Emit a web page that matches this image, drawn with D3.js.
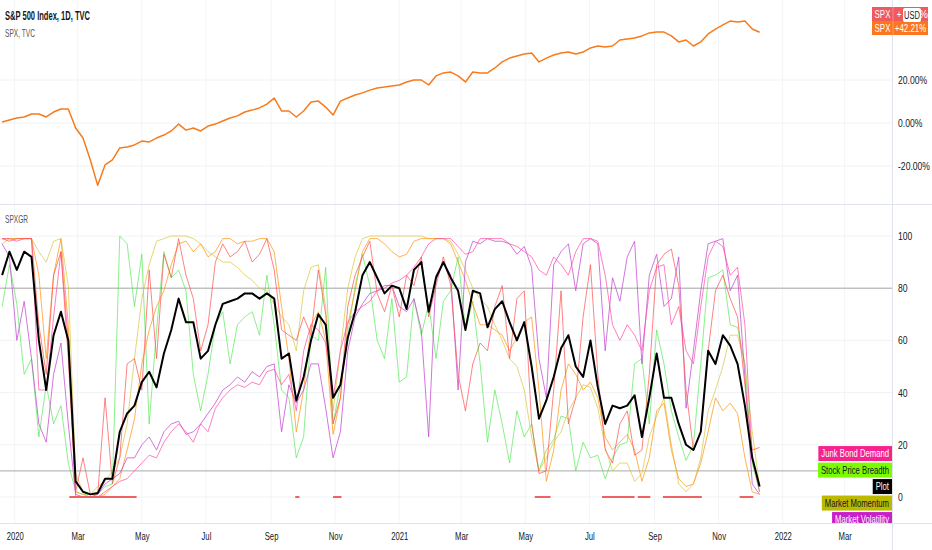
<!DOCTYPE html>
<html>
<head>
<meta charset="utf-8">
<script src="https://cdn.jsdelivr.net/npm/d3@7"></script>
<style>
  html, body { margin: 0; padding: 0; background: #fff; }
  svg { display: block; font-family: "Liberation Sans", "Roboto", sans-serif; }
</style>
</head>
<body>
<svg id="chart" width="932" height="550"></svg>
<script>
// weekly closes, first one on 2019-12-20
const weekStart = new Date(2019, 11, 20);

// S&P 500, % change from the first bar
const spxPct = [
  0.5, 1.4, 2.3, 2.8, 4.2, 4.2, 2.8, 5.1, 6.5, 6.5,
  -2.3, -7.0, -17.2, -29.0, -19.5, -17.2, -11.6, -11.2, -10.2, -8.4,
  -8.8, -7.0, -5.6, -3.7, -0.5, -3.3, -2.3, -3.7, -1.4, -0.5,
  0.9, 2.3, 3.3, 5.1, 6.0, 7.0, 8.8, 11.6, 5.6, 5.6,
  2.8, 5.6, 9.8, 10.2, 7.4, 3.7, 10.2, 11.6, 13.0, 14.0,
  15.3, 16.3, 16.7, 17.2, 17.7, 19.1, 20.0, 20.0, 17.7, 21.9,
  23.3, 23.7, 21.9, 19.1, 23.7, 23.3, 23.3, 25.6, 28.4, 30.2,
  31.2, 32.1, 32.6, 28.4, 30.2, 31.6, 32.6, 33.0, 32.1, 33.0,
  34.9, 35.8, 35.3, 35.8, 38.6, 39.1, 39.5, 40.5, 41.9, 42.3,
  42.3, 40.5, 37.7, 38.6, 35.8, 37.7, 41.4, 43.7, 45.6, 47.4,
  47.0, 47.4, 43.7, 42.21
];

// SPXGR composite (black)
const plotVals = [
  85, 94, 87, 94, 92, 60, 41, 62, 71, 60,
  6, 2, 1, 1.5, 7, 7, 25, 32, 35, 44,
  48, 42, 55, 64, 76, 67, 67, 53, 56, 66,
  74, 75, 76, 78, 78, 76, 78, 76, 53, 55,
  37, 46, 60, 70, 66, 38, 43, 61, 71, 85,
  90, 84, 78, 81, 80, 72, 87, 90, 71, 84,
  90, 84, 79, 64, 79, 78, 65, 72, 75, 67,
  60, 67, 50, 30, 37, 46, 57, 62, 50, 46,
  60, 42, 28, 35, 34, 35, 39, 23, 38, 55,
  38, 38, 28, 20, 18, 25, 56, 51, 62, 58,
  51, 35, 15, 4
];

const redVals = [
  99, 98, 99, 99, 99, 66, 47, 85, 94, 53,
  2, 15, 1, 1, 38, 5, 15, 51, 53, 41,
  87, 53, 93, 84, 99, 85, 76, 56, 66, 90,
  97, 92, 94, 98, 90, 93, 99, 87, 64, 62,
  60, 69, 62, 87, 70, 28, 38, 73, 85, 92,
  98, 78, 71, 81, 69, 85, 81, 92, 69, 81,
  92, 81, 47, 33, 51, 59, 56, 73, 81, 53,
  76, 79, 28, 9, 10, 41, 79, 28, 38, 69,
  89, 47, 18, 13, 28, 33, 16, 18, 47, 89,
  93, 95, 81, 41, 18, 25, 56, 79, 85, 76,
  69, 43, 18, 19
];

const orangeVals = [
  99, 99, 99, 99, 99, 85, 53, 85, 99, 66,
  2, 1, 0, 0, 1, 4, 7, 18, 30, 51,
  64, 73, 79, 89, 97, 98, 94, 97, 92, 94,
  99, 99, 97, 98, 98, 99, 99, 94, 73, 53,
  25, 41, 66, 71, 60, 24, 38, 66, 79, 94,
  99, 99, 97, 94, 92, 93, 98, 99, 99, 99,
  99, 97, 90, 83, 74, 66, 66, 64, 62, 56,
  61, 67, 69, 41, 6, 18, 41, 51, 47, 41,
  44, 38, 23, 18, 21, 24, 18, 6, 15, 33,
  36, 18, 7, 4, 5, 13, 25, 38, 33, 36,
  32, 15, 2, 1
];

const momentumVals = [
  97, 99, 99, 99, 99, 94, 90, 98, 99, 81,
  9, 2, 1, 4, 6, 10, 15, 28, 53, 76,
  89, 98, 99, 100, 100, 100, 99, 97, 94, 92,
  90, 90, 88, 85, 83, 80, 79, 74, 69, 66,
  56, 79, 88, 89, 73, 33, 56, 80, 92, 99,
  100, 100, 100, 100, 100, 100, 100, 100, 99, 99,
  99, 98, 93, 87, 80, 76, 73, 66, 60, 53,
  50, 41, 23, 10, 15, 21, 25, 33, 38, 43,
  42, 34, 19, 10, 13, 13, 6, 9, 23, 31,
  38, 20, 5, 2, 5, 15, 33, 41, 50, 62,
  62, 51, 25, 4
];

const breadthVals = [
  73, 89, 74, 47, 53, 23, 43, 28, 35, 13,
  2, 1, 1, 1, 4, 5, 100, 97, 73, 93,
  28, 64, 94, 84, 87, 79, 47, 33, 47, 66,
  71, 51, 66, 69, 71, 62, 85, 66, 41, 38,
  15, 23, 62, 60, 88, 28, 43, 62, 81, 93,
  81, 60, 53, 76, 44, 46, 76, 62, 74, 53,
  75, 79, 92, 64, 75, 51, 21, 41, 28, 13,
  33, 23, 28, 10, 18, 22, 31, 30, 10, 21,
  15, 16, 7, 15, 20, 21, 51, 53, 28, 64,
  51, 33, 23, 14, 20, 51, 84, 85, 87, 66,
  65, 51, 13, 2
];

const volatilityVals = [
  97, 92, 60, 75, 53, 28, 21, 47, 59, 28,
  1, 0, 0, 1, 5, 7, 9, 15, 15, 20,
  23, 18, 25, 28, 29, 24, 25, 28, 32, 36,
  41, 43, 46, 44, 48, 46, 50, 51, 25, 43,
  36, 41, 51, 51, 34, 15, 25, 56, 69, 74,
  78, 79, 81, 81, 73, 71, 76, 64, 23, 85,
  90, 85, 41, 90, 98, 97, 99, 98, 98, 97,
  93, 96, 88, 53, 38, 89, 94, 97, 79, 97,
  99, 97, 56, 84, 75, 92, 98, 51, 85, 93,
  73, 76, 92, 34, 56, 79, 97, 98, 99, 79,
  85, 46, 5, 1
];

const junkVals = [
  99, 99, 98, 99, 99, 41, 41, 69, 94, 60,
  0, 0, 0, 0, 2, 4, 6, 7, 10, 13,
  16, 15, 21, 25, 28, 25, 21, 28, 25, 34,
  38, 41, 43, 42, 44, 43, 48, 49, 43, 47,
  33, 56, 66, 64, 59, 38, 56, 67, 71, 73,
  75, 79, 80, 82, 83, 85, 88, 92, 97, 99,
  99, 99, 96, 93, 94, 99, 99, 99, 99, 97,
  96, 94, 92, 87, 85, 92, 89, 85, 94, 99,
  99, 98, 85, 66, 60, 66, 62, 56, 79, 88,
  89, 66, 73, 56, 51, 73, 92, 98, 96, 85,
  88, 66, 15, 2
];

// stretches where the extreme-fear marker sits on 0
const zeroRuns = [
  ['2020-02-22', '2020-04-26'], ['2020-09-24', '2020-09-28'],
  ['2020-10-30', '2020-11-07'], ['2021-05-10', '2021-05-25'],
  ['2021-07-13', '2021-08-13'], ['2021-08-16', '2021-08-28'],
  ['2021-09-09', '2021-10-16'], ['2021-11-21', '2021-12-04']
];

const topTicks = [-20, 0, 20];
const lowTicks = [0, 20, 40, 60, 80, 100];
const levelLines = [80, 10];

const legendItems = [
  { label: 'Junk Bond Demand', bg: '#f5228f', fg: '#fff' },
  { label: 'Stock Price Breadth', bg: '#7cfc00', fg: '#131722' },
  { label: 'Plot', bg: '#000', fg: '#fff' },
  { label: 'Market Momentum', bg: '#bdb800', fg: '#131722' },
  { label: 'Market Volatility', bg: '#c81fc8', fg: '#fff' }
];

const dates = spxPct.map((_, i) => d3.timeDay.offset(weekStart, 7 * i));

// squeeze text horizontally, the chart uses a narrow face
function condense(sel, f) {
  sel.each(function () {
    const w = this.getComputedTextLength();
    d3.select(this).attr('textLength', w * f).attr('lengthAdjust', 'spacingAndGlyphs');
  });
}

const svg = d3.select('#chart');
const plotRight = 892;

const x = d3.scaleTime()
  .domain([new Date(2019, 11, 18), new Date(2022, 3, 15)])
  .range([0, plotRight]);
const yTop = d3.scaleLinear().domain([-20, 20]).range([166, 80]);
const yLow = d3.scaleLinear().domain([0, 100]).range([497, 236]);

const defs = svg.append('defs');
defs.append('clipPath').attr('id', 'clipTop')
  .append('rect').attr('x', 0).attr('y', 0).attr('width', plotRight).attr('height', 204);
defs.append('clipPath').attr('id', 'clipLow')
  .append('rect').attr('x', 0).attr('y', 205).attr('width', plotRight).attr('height', 318);

// grid
const monthTicks = x.ticks(d3.timeMonth.every(2));
svg.append('g').selectAll('line').data(monthTicks).join('line')
  .attr('x1', d => x(d)).attr('x2', d => x(d))
  .attr('y1', 0).attr('y2', 523)
  .attr('stroke', '#f3f4f7');
svg.append('g').selectAll('line').data(topTicks).join('line')
  .attr('x1', 0).attr('x2', plotRight)
  .attr('y1', d => yTop(d)).attr('y2', d => yTop(d))
  .attr('stroke', '#f0f2f6');
svg.append('g').selectAll('line').data(lowTicks).join('line')
  .attr('x1', 0).attr('x2', plotRight)
  .attr('y1', d => yLow(d)).attr('y2', d => yLow(d))
  .attr('stroke', '#f0f2f6');

// frame lines
svg.append('line').attr('x1', 0).attr('x2', 932).attr('y1', 204.5).attr('y2', 204.5).attr('stroke', '#e0e3eb');
svg.append('line').attr('x1', 0).attr('x2', 932).attr('y1', 523.5).attr('y2', 523.5).attr('stroke', '#e0e3eb');
svg.append('line').attr('x1', plotRight + 0.5).attr('x2', plotRight + 0.5).attr('y1', 0).attr('y2', 550).attr('stroke', '#e0e3eb');

// top pane: SPX
const topG = svg.append('g').attr('clip-path', 'url(#clipTop)');
topG.append('path')
  .datum(spxPct)
  .attr('fill', 'none')
  .attr('stroke', '#f77b1c')
  .attr('stroke-width', 1.5)
  .attr('stroke-linejoin', 'round')
  .attr('d', d3.line().x((d, i) => x(dates[i])).y(d => yTop(d)));

// lower pane
const lowG = svg.append('g').attr('clip-path', 'url(#clipLow)');
lowG.selectAll('line.level').data(levelLines).join('line')
  .attr('class', 'level')
  .attr('x1', 0).attr('x2', plotRight)
  .attr('y1', d => yLow(d)).attr('y2', d => yLow(d))
  .attr('stroke', '#a8a8a8');

const lowLine = d3.line().x((d, i) => x(dates[i])).y(d => yLow(d));
const series = [
  { vals: breadthVals, color: '#3ee63e', op: 0.6 },
  { vals: momentumVals, color: '#d6c640', op: 0.7 },
  { vals: orangeVals, color: '#ff9a1a', op: 0.75 },
  { vals: volatilityVals, color: '#c348d2', op: 0.75 },
  { vals: junkVals, color: '#ff4aa3', op: 0.7 },
  { vals: redVals, color: '#ff4f4f', op: 0.7 }
];
series.forEach(s => {
  lowG.append('path')
    .datum(s.vals)
    .attr('fill', 'none')
    .attr('stroke', s.color)
    .attr('stroke-opacity', s.op)
    .attr('stroke-width', 1)
    .attr('d', lowLine);
});

lowG.selectAll('line.zero').data(zeroRuns).join('line')
  .attr('class', 'zero')
  .attr('x1', d => x(new Date(d[0]))).attr('x2', d => x(new Date(d[1])))
  .attr('y1', yLow(0)).attr('y2', yLow(0))
  .attr('stroke', '#f06262')
  .attr('stroke-width', 2);

lowG.append('path')
  .datum(plotVals)
  .attr('fill', 'none')
  .attr('stroke', '#000')
  .attr('stroke-width', 2)
  .attr('stroke-linejoin', 'round')
  .attr('d', lowLine);

// legend labels stacked around the Plot's last value
const lastY = yLow(plotVals[plotVals.length - 1]);
const legG = lowG.append('g');
legendItems.forEach((item, k) => {
  const cy = lastY + (k - 2) * 16.5;
  const g = legG.append('g');
  const t = g.append('text')
    .attr('x', plotRight - 3)
    .attr('y', cy)
    .attr('dy', '0.35em')
    .attr('text-anchor', 'end')
    .attr('font-size', 11)
    .attr('fill', item.fg)
    .text(item.label);
  condense(t, 0.7);
  const w = +t.attr('textLength');
  g.insert('rect', 'text')
    .attr('x', plotRight - 6 - w)
    .attr('y', cy - 7.5)
    .attr('width', w + 6)
    .attr('height', 15)
    .attr('fill', item.bg);
});

// axes
const xAxis = svg.append('g')
  .attr('transform', 'translate(0,523)')
  .call(d3.axisBottom(x)
    .tickValues(monthTicks)
    .tickSize(0)
    .tickPadding(9)
    .tickFormat(d => d.getMonth() === 0 ? d3.timeFormat('%Y')(d) : d3.timeFormat('%b')(d)));
xAxis.select('.domain').remove();
xAxis.selectAll('text').attr('font-size', 11).attr('fill', '#131722').attr('font-family', null);
condense(xAxis.selectAll('text'), 0.7);

const topAxis = svg.append('g')
  .attr('transform', `translate(${plotRight},0)`)
  .call(d3.axisRight(yTop).tickValues(topTicks).tickSize(0).tickPadding(6)
    .tickFormat(d => d.toFixed(2) + '%'));
topAxis.select('.domain').remove();
topAxis.selectAll('text').attr('font-size', 11).attr('fill', '#131722').attr('font-family', null);
condense(topAxis.selectAll('text'), 0.78);

const lowAxis = svg.append('g')
  .attr('transform', `translate(${plotRight},0)`)
  .call(d3.axisRight(yLow).tickValues(lowTicks).tickSize(0).tickPadding(6));
lowAxis.select('.domain').remove();
lowAxis.selectAll('text').attr('font-size', 11).attr('fill', '#131722').attr('font-family', null);
condense(lowAxis.selectAll('text'), 0.78);

// titles
svg.append('text').attr('x', 5).attr('y', 20)
  .attr('font-size', 12.5).attr('font-weight', 'bold').attr('fill', '#131722')
  .attr('textLength', 85).attr('lengthAdjust', 'spacingAndGlyphs')
  .text('S&P 500 Index, 1D, TVC');
svg.append('text').attr('x', 5).attr('y', 37)
  .attr('font-size', 11.5).attr('fill', '#555')
  .attr('textLength', 30).attr('lengthAdjust', 'spacingAndGlyphs')
  .text('SPX, TVC');
svg.append('text').attr('x', 5).attr('y', 223)
  .attr('font-size', 11.5).attr('fill', '#555')
  .attr('textLength', 23).attr('lengthAdjust', 'spacingAndGlyphs')
  .text('SPXGR');

// last-value badges
const lastPct = spxPct[spxPct.length - 1];
const badgeRows = [
  { y: 7, bg: '#ee5a5e', value: '+' },
  { y: 21, bg: '#fb761c', value: '+' + lastPct.toFixed(2) + '%' }
];
badgeRows.forEach(r => {
  svg.append('rect').attr('x', 872).attr('y', r.y).attr('width', 56).attr('height', 14).attr('fill', r.bg);
  svg.append('line').attr('x1', 893).attr('x2', 893).attr('y1', r.y).attr('y2', r.y + 14)
    .attr('stroke', '#fff').attr('stroke-opacity', 0.3);
  const a = svg.append('text').attr('x', 882.5).attr('y', r.y + 7).attr('dy', '0.35em')
    .attr('text-anchor', 'middle').attr('font-size', 11).attr('fill', '#fff').text('SPX');
  condense(a, 0.72);
  const b = svg.append('text').attr('x', r.value === '+' ? 899 : 910.5).attr('y', r.y + 7).attr('dy', '0.35em')
    .attr('text-anchor', 'middle').attr('font-size', 11).attr('fill', '#fff').text(r.value);
  condense(b, 0.72);
});
svg.append('text').attr('x', 923.5).attr('y', 14).attr('dy', '0.35em')
  .attr('text-anchor', 'middle').attr('font-size', 10).attr('fill', '#fff').text('%');
svg.append('rect').attr('x', 903).attr('y', 8).attr('width', 18).attr('height', 14)
  .attr('rx', 2).attr('fill', '#fff');
const usd = svg.append('text').attr('x', 912).attr('y', 15).attr('dy', '0.35em')
  .attr('text-anchor', 'middle').attr('font-size', 10).attr('fill', '#131722').text('USD');
condense(usd, 0.75);
</script>
</body>
</html>
